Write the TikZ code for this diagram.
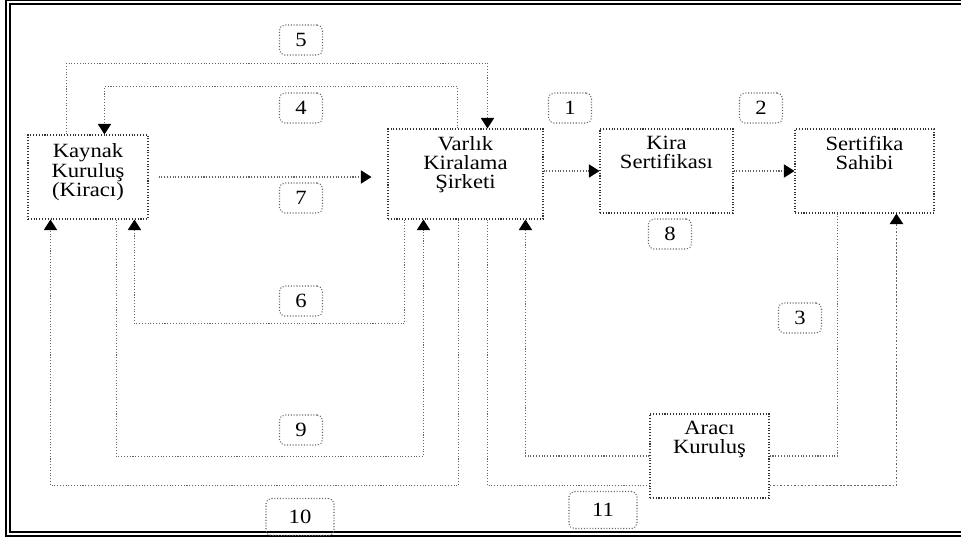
\documentclass[tikz,border=0pt]{standalone}
\usepackage{fontspec}
\setmainfont{Liberation Serif}[FakeStretch=1.12]
\usetikzlibrary{arrows.meta}

\tikzset{
  box/.style={draw=black!80, densely dotted, line width=0.6pt, inner sep=0pt},
  num/.style={draw=black!60, densely dotted, line width=0.6pt, rounded corners=3pt,
    minimum width=0.86cm, minimum height=0.6cm, inner sep=0pt},
  numwide/.style={num, minimum width=1.36cm, minimum height=0.74cm},
  link/.style={draw=black!60, densely dotted, line width=0.6pt},
  flow/.style={link, -{Triangle[length=6pt,width=7.5pt,color=black]}},
  frame/.style={line width=0.9pt, double distance=1.2pt}
}

\begin{document}
\begin{tikzpicture}[x=0.02cm,y=-0.02cm,font=\fontsize{11.5}{11}\selectfont]
\useasboundingbox (0,0) rectangle (961,541);

% outer frame
\draw[frame] (961,2) -- (8,2) -- (8,534) -- (961,534);

% main boxes
\node[box] (kaynak) at (88,177) {\parbox[c][1.68cm][t]{2.4cm}{\centering\vspace{5pt}Kaynak\\Kuruluş\\(Kiracı)}};
\node[box] (varlik) at (465.5,174) {\parbox[c][1.8cm][t]{3.1cm}{\centering\vspace{4pt}Varlık\\Kiralama\\Şirketi}};
\node[box] (kira) at (666.5,171) {\parbox[c][1.68cm][t]{2.66cm}{\centering\vspace{4pt}Kira\\Sertifikası}};
\node[box] (sahip) at (864.5,171) {\parbox[c][1.68cm][t]{2.78cm}{\centering\vspace{4pt}Sertifika\\Sahibi}};
\node[box] (araci) at (709.5,456) {\parbox[c][1.68cm][t]{2.38cm}{\centering\vspace{4pt}Aracı\\Kuruluş}};

% step numbers
\node[num] (n1) at (570,108) {1};
\node[num] (n2) at (761,108) {2};
\node[num] (n3) at (800,318) {3};
\node[num] (n4) at (301,108) {4};
\node[num] (n5) at (301,40) {5};
\node[num] (n6) at (301,301) {6};
\node[num] (n7) at (301,198) {7};
\node[num] (n8) at (670,234) {8};
\node[num] (n9) at (301,430) {9};
\node[numwide] (n10) at (300,517) {10};
\node[numwide] (n11) at (603,510) {11};

% flows on top
\draw[flow] ([xshift=0.78cm]kaynak.north west) -- ++(0,-71) -| ([xshift=2cm]varlik.north west);
\draw[flow] ([xshift=1.4cm]varlik.north west) -- ++(0,-42) -| ([xshift=1.54cm]kaynak.north west);
\draw[flow, shorten <=0.2cm, shorten >=0.32cm] (kaynak.east) -- (kaynak.east -| varlik.west);
\draw[flow] (varlik.east |- kira.west) -- (kira.west);
\draw[flow] (kira.east) -- (sahip.west);

% flows below
\draw[flow] ([xshift=0.34cm]varlik.south west) -- ++(0,104) -| ([xshift=2.14cm]kaynak.south west);
\draw[flow] ([xshift=1.78cm]kaynak.south west) -- ++(0,237) -| ([xshift=0.72cm]varlik.south west);
\draw[flow] ([xshift=1.42cm]varlik.south west) -- ++(0,266) -| ([xshift=0.46cm]kaynak.south west);

% via araci
\draw[link] ([xshift=2cm]varlik.south west) |- ([yshift=0.26cm]araci.south west);
\draw[flow, line width=1pt] ([yshift=0.26cm]araci.south east) -| ([xshift=2.04cm]sahip.south west);
\draw[link] ([xshift=0.86cm]sahip.south west) |- (araci.east);
\draw[flow] (araci.west) -| ([xshift=2.76cm]varlik.south west);

\end{tikzpicture}
\end{document}
